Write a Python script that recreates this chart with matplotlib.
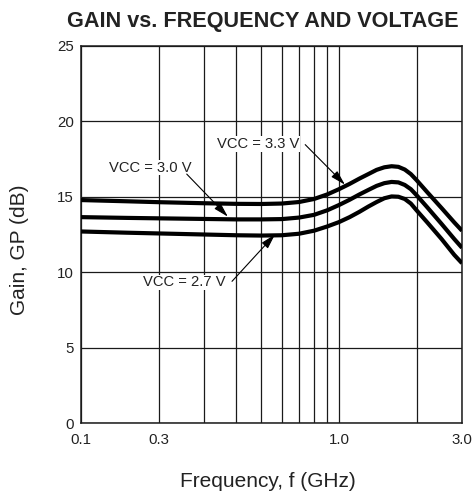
import matplotlib
matplotlib.use("Agg")
import matplotlib.pyplot as plt
from matplotlib.ticker import FixedLocator, NullFormatter

plt.rcParams['font.family'] = ['Liberation Sans', 'DejaVu Sans']

# frequency points (GHz)
freq = [0.1, 0.15, 0.2, 0.3, 0.4, 0.5, 0.6, 0.7, 0.8, 0.9, 1.0, 1.1, 1.2,
        1.3, 1.4, 1.5, 1.6, 1.7, 1.8, 1.9, 2.0, 2.2, 2.5, 2.8, 3.0]

gain_33 = [14.78, 14.7, 14.64, 14.57, 14.53, 14.52, 14.55, 14.65, 14.85, 15.15,
           15.5, 15.85, 16.2, 16.5, 16.78, 16.95, 17.02, 16.98, 16.8, 16.5,
           16.1, 15.3, 14.25, 13.3, 12.75]
gain_30 = [13.65, 13.6, 13.57, 13.53, 13.5, 13.5, 13.52, 13.62, 13.8, 14.1,
           14.45, 14.8, 15.15, 15.45, 15.72, 15.9, 15.98, 15.95, 15.78, 15.5,
           15.1, 14.3, 13.2, 12.2, 11.62]
gain_27 = [12.7, 12.62, 12.57, 12.5, 12.45, 12.43, 12.45, 12.55, 12.75, 13.03,
           13.32, 13.65, 14.0, 14.35, 14.65, 14.9, 15.02, 15.0, 14.85, 14.55,
           14.1, 13.3, 12.2, 11.15, 10.6]

xtick_pos = [0.1, 0.2, 1.0, 3.0]
xtick_lbl = ['0.1', '0.3', '1.0', '3.0']
xgrid_minor = [0.3, 0.4, 0.5, 0.6, 0.7, 0.8, 0.9, 2.0]
yticks = [0, 5, 10, 15, 20, 25]

# label text, label position, arrow tail, arrow tip
notes = [
    ('VCC = 3.3 V', (0.485, 18.5), (0.74, 18.45), (1.055, 15.8)),
    ('VCC = 3.0 V', (0.185, 16.93), (0.257, 16.5), (0.371, 13.68)),
    ('VCC = 2.7 V', (0.252, 9.33), (0.385, 9.4), (0.565, 12.5)),
]

fig = plt.figure(figsize=(4.74, 4.94), dpi=100)
ax = fig.add_axes([0.1709, 0.1431, 0.8038, 0.7644])

for g in (gain_33, gain_30, gain_27):
    ax.plot(freq, g, color='black', lw=3.0, solid_capstyle='butt', zorder=3)

ax.set_xscale('log')
ax.set_xlim(0.1, 3.0)
ax.set_ylim(0, 25)
ax.xaxis.set_major_locator(FixedLocator(xtick_pos))
ax.set_xticklabels(xtick_lbl)
ax.xaxis.set_minor_locator(FixedLocator(xgrid_minor))
ax.xaxis.set_minor_formatter(NullFormatter())
ax.set_yticks(yticks)
ax.tick_params(which='both', length=0, labelsize=10.8, colors='#222222')
ax.tick_params(axis='x', pad=7)
ax.tick_params(axis='y', pad=5)
ax.grid(which='both', color='#1a1a1a', lw=0.9)
for s in ax.spines.values():
    s.set_linewidth(1.1)
    s.set_color('#1a1a1a')

for txt, pos, tail, tip in notes:
    ax.text(pos[0], pos[1], txt, fontsize=10.6, ha='center', va='center',
            color='#222222', zorder=4,
            bbox=dict(facecolor='white', edgecolor='none', pad=0.5))
    ax.annotate('', xy=tip, xytext=tail, zorder=4,
                arrowprops=dict(arrowstyle='-|>,head_length=0.9,head_width=0.25',
                                color='black', lw=0.8, mutation_scale=10,
                                shrinkA=0, shrinkB=0))

fig.text(0.554, 0.946, 'GAIN vs. FREQUENCY AND VOLTAGE', fontsize=15.6,
         fontweight='bold', ha='center', va='baseline', color='#222222')
fig.text(0.566, 0.0148, 'Frequency, f (GHz)', fontsize=15, ha='center',
         va='baseline', color='#222222')
fig.text(0.042, 0.494, 'Gain, GP (dB)', fontsize=15, rotation=90,
         ha='center', va='center', color='#222222')

fig.savefig('out.png', dpi=100)
